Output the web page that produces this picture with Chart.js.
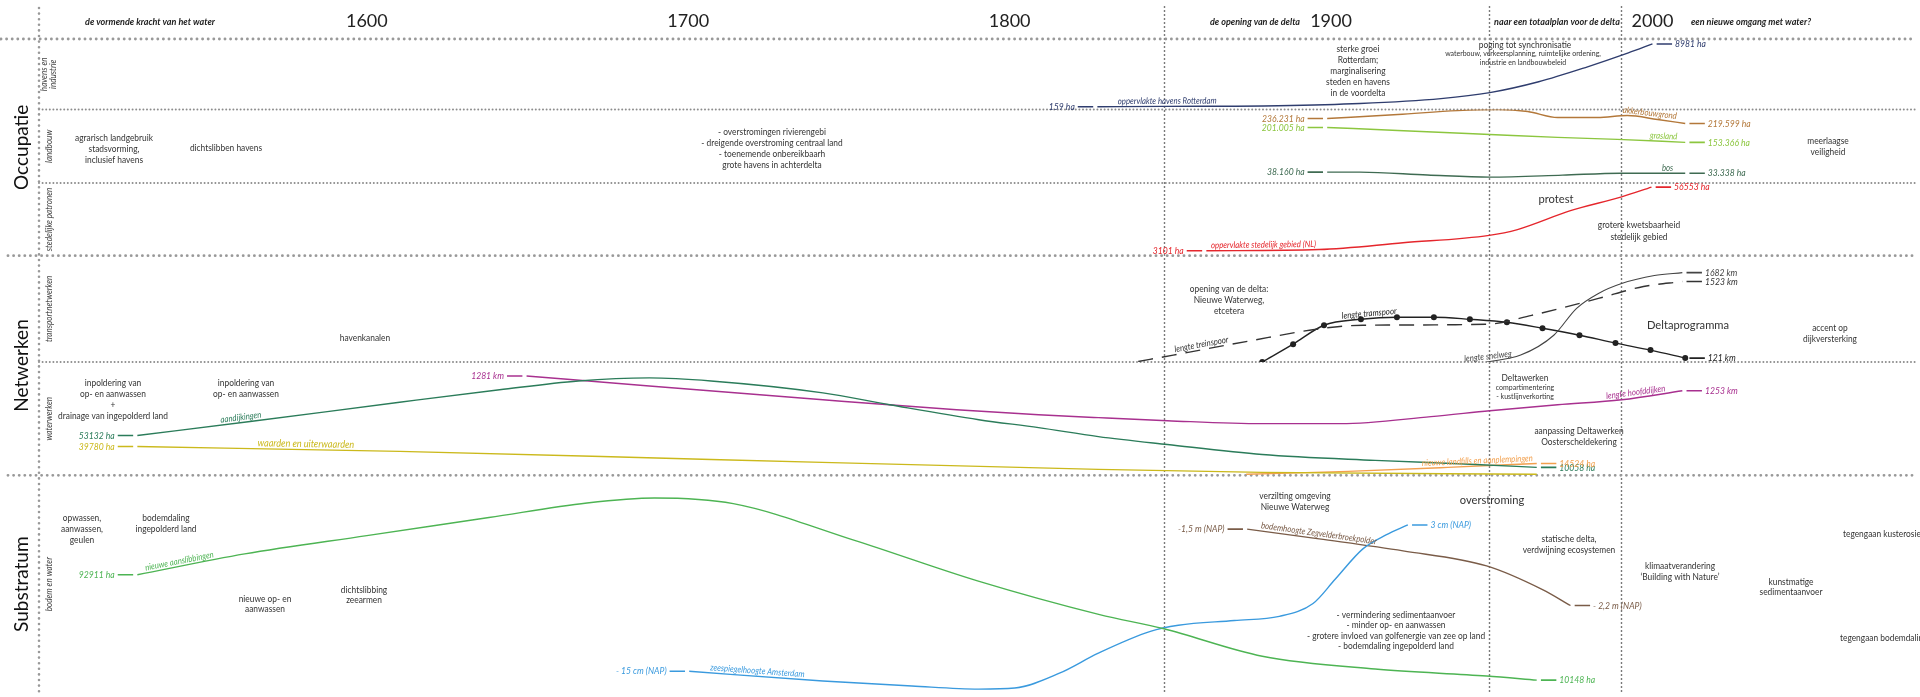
<!DOCTYPE html>
<html lang="nl">
<head>
<meta charset="UTF-8">
<title>Delta tijdlijn</title>
<script src="https://cdn.jsdelivr.net/npm/chart.js"></script>
<style>
  html, body { margin: 0; padding: 0; background: #fff; }
  #wrap { width: 1920px; height: 697px; }
</style>
</head>
<body>
<div id="wrap"><canvas id="delta"></canvas></div>
<script>
// tijdas
const yearTicks = [1600, 1700, 1800, 1900, 2000];
const periodLines = [1848, 1949.2, 1990.3];

// waarden: positie binnen de eigen strook (0 = onder, 100 = boven)
// havens en industrie
const havensYears = [1827.3, 1848, 1883.5, 1909, 1934.2, 1949.4, 1964.6, 1979.8, 1992.5, 2000];
const havensVal   = [4, 4.5, 5.5, 8.5, 15.5, 24, 39.4, 60.6, 80.3, 93];

// landbouw
const akkerYears = [1898.8, 1920.8, 1939.4, 1951.9, 1961.2, 1970.5, 1982.9, 1992.2, 2001.6, 2010.2];
const akkerVal   = [87.8, 93.2, 98.6, 100, 97.3, 89.2, 89.2, 91.9, 86.5, 81.1];
const grasYears  = [1898.8, 1920.8, 1949.4, 1970.5, 1989.1, 2010.2];
const grasVal    = [75.7, 71.6, 66.2, 62.2, 59.5, 55.4];
const bosYears   = [1898.8, 1909, 1930, 1949.4, 1972, 1990, 2010.2];
const bosVal     = [14.9, 14.9, 11, 8.1, 10.8, 13.5, 13.5];

// stedelijke patronen
const stadYears = [1861.2, 1896.3, 1922.4, 1949.2, 1958, 1974.5, 1990.4, 1999.7];
const stadVal   = [6.8, 8.5, 17.8, 28, 36, 62, 81, 94.5];

// transportnetwerken
const tramYears   = [1878.6, 1888.2, 1897.8, 1909.3, 1920.5, 1932, 1943.2, 1954.7, 1965.8, 1977.3, 1988.5, 1999.4, 2010.2];
const tramVal     = [0, 16.8, 34.6, 40.2, 42.1, 42.1, 40.2, 37.4, 31.8, 25.2, 17.8, 11.2, 3.7];
const treinYears  = [1840, 1850.9, 1874.2, 1897.8, 1909.9, 1948.4, 1962.4, 1983.2, 1997.2, 2009.3];
const treinVal    = [0.5, 6.5, 19.6, 31.8, 34.6, 35.5, 43.9, 59.8, 71, 75.7];
const snelYears   = [1948.4, 1959, 1969.3, 1976.4, 1983.2, 1990.4, 2000.6, 2009.3];
const snelVal     = [0, 6.5, 25.2, 50.5, 64.5, 73.8, 81.3, 84.1];

// waterwerken
const dijkYears   = [1528.6, 1563.7, 1610.2, 1641.3, 1665.8, 1687.9, 1707.1, 1741.9, 1762.7, 1790.4, 1809, 1827.6, 1849.1, 1878.6, 1913.7, 1945, 1964];
const dijkVal     = [35.1, 47.5, 64.5, 75.5, 83.3, 86, 83.3, 72.8, 62.3, 49.1, 42.1, 34.2, 27.2, 18.4, 13.2, 9.6, 7];
const waardYears  = [1528.6, 1610.2, 1707.1, 1827.6, 1878.6, 1964];
const waardVal    = [25.4, 21.1, 14, 5.3, 2.6, 0.9];
const hoofdYears  = [1649.7, 1687.9, 1741.9, 1783.5, 1809, 1827.6, 1849.1, 1878.6, 1903.1, 1931.1, 1949.4, 1970.5, 1990.4, 2009.3];
const hoofdVal    = [87.7, 78.9, 66.7, 57.9, 53.5, 50.9, 48.2, 45.6, 45.6, 51.8, 57, 62.3, 66.7, 74.6];
const fillYears   = [1873.6, 1905.3, 1936.3, 1964];
const fillVal     = [0.9, 3.5, 7, 10.5];

// substratum
const slibYears = [1528.6, 1562, 1600, 1638, 1668.5, 1689.5, 1714, 1752, 1790, 1828, 1848, 1878.6, 1913.7, 1948.4, 1964];
const slibVal   = [54.3, 63.9, 72.3, 80.6, 87.3, 89.6, 87, 70, 51.5, 36, 29.5, 16.9, 11, 7.8, 5.9];
const zeeYears  = [1700.3, 1741.9, 1769.6, 1790.4, 1801.6, 1815.5, 1827.6, 1843.8, 1852.5, 1869.9, 1883.9, 1894.4, 1901.2, 1909.9, 1917.1, 1923.9];
const zeeVal    = [10, 5.5, 3.2, 1.8, 2.3, 9.1, 18.3, 28.3, 31.1, 33.3, 35.2, 41.1, 52.1, 66.2, 72.6, 77.2];
const bodemYears = [1873.9, 1896.3, 1922.4, 1948.4, 1965.8, 1974.5];
const bodemVal   = [75.3, 70.8, 65.3, 58.4, 47.5, 40.2];

const FONT = "Lato, 'Open Sans', sans-serif";
const STUB_GAP = 1.3, STUB_LEN = 4.8;

const series = [
  { ys: havensYears, vs: havensVal, ax: 'yHav', c: '#2f3d6e', start: '159 ha', end: '8981 ha', lab: 'oppervlakte havens Rotterdam', at: 1849 },
  { ys: akkerYears, vs: akkerVal, ax: 'yLand', c: '#b3783a', start: '236.231 ha', end: '219.599 ha', lab: 'akkerbouwgrond', at: 1999 },
  { ys: grasYears, vs: grasVal, ax: 'yLand', c: '#8cc63f', start: '201.005 ha', end: '153.366 ha', lab: 'grasland', at: 2003.4 },
  { ys: bosYears, vs: bosVal, ax: 'yLand', c: '#3f6b52', start: '38.160 ha', end: '33.338 ha', lab: 'bos', at: 2004.7 },
  { ys: stadYears, vs: stadVal, ax: 'yStad', c: '#e5262c', start: '3101 ha', end: '56553 ha', lab: 'oppervlakte stedelijk gebied (NL)', at: 1879 },
  { ys: treinYears, vs: treinVal, ax: 'yTrans', c: '#333', dash: [15, 9], end: '1523 km', lab: 'lengte treinspoor', at: 1860 },
  { ys: snelYears, vs: snelVal, ax: 'yTrans', c: '#444', w: 1.1, end: '1682 km', lab: 'lengte snelweg', at: 1949 },
  { ys: tramYears, vs: tramVal, ax: 'yTrans', c: '#222', dots: true, end: '121 km', lab: 'lengte tramspoor', at: 1912 },
  { ys: dijkYears, vs: dijkVal, ax: 'yWater', c: '#2b7c5a', start: '53132 ha', end: '10058 ha', lab: 'aandijkingen', at: 1561 },
  { ys: waardYears, vs: waardVal, ax: 'yWater', c: '#cbb91c', start: '39780 ha', lab: 'waarden en uiterwaarden', at: 1581, ls: 10.5 },
  { ys: hoofdYears, vs: hoofdVal, ax: 'yWater', c: '#a8308f', start: '1281 km', end: '1253 km', lab: 'lengte hoofddijken', at: 1995 },
  { ys: fillYears, vs: fillVal, ax: 'yWater', c: '#f2a04e', end: '14524 ha', lab: 'nieuwe landfills en aanplempingen', at: 1945.6 },
  { ys: slibYears, vs: slibVal, ax: 'ySub', c: '#4db453', start: '92911 ha', end: '10148 ha', lab: 'nieuwe aanslibbingen', at: 1542 },
  { ys: zeeYears, vs: zeeVal, ax: 'ySub', c: '#3a9ade', start: '- 15 cm (NAP)', end: '3 cm (NAP)', lab: 'zeespiegelhoogte Amsterdam', at: 1721.4 },
  { ys: bodemYears, vs: bodemVal, ax: 'ySub', c: '#7a5c48', start: '-1,5 m (NAP)', end: '- 2,2 m (NAP)', lab: 'bodemhoogte Zegvelderbroekpolder', at: 1896 }
];

const bands = [
  { id: 'yHav',   w: 71,  major: true,  sub: ['havens en', 'industrie'] },
  { id: 'yLand',  w: 74,  major: false, sub: ['landbouw'] },
  { id: 'yStad',  w: 73,  major: false, sub: ['stedelijke patronen'] },
  { id: 'yTrans', w: 107, major: true,  sub: ['transportnetwerken'] },
  { id: 'yWater', w: 114, major: false, sub: ['waterwerken'] },
  { id: 'ySub',   w: 219, major: true,  sub: ['bodem en water'] }
];
const groups = [
  { name: 'Occupatie', from: 'yHav', to: 'yStad' },
  { name: 'Netwerken', from: 'yTrans', to: 'yWater' },
  { name: 'Substratum', from: 'ySub', to: 'ySub' }
];

const headers = [
  { t: 'de vormende kracht van het water', x: 150 },
  { t: 'de opening van de delta', x: 1255 },
  { t: 'naar een totaalplan voor de delta', x: 1557 },
  { t: 'een nieuwe omgang met water?', x: 1751 }
];

const notes = [
  { t: ['agrarisch landgebruik', 'stadsvorming,', 'inclusief havens'], x: 114, y: 138 },
  { t: ['dichtslibben havens'], x: 226, y: 148 },
  { t: ['- overstromingen rivierengebi', '- dreigende overstroming centraal land', '- toenemende onbereikbaarh', 'grote havens in achterdelta'], x: 772, y: 132 },
  { t: ['meerlaagse', 'veiligheid'], x: 1828, y: 141 },
  { t: ['sterke groei', 'Rotterdam;', 'marginalisering', 'steden en havens', 'in de voordelta'], x: 1358, y: 49 },
  { t: ['poging tot synchronisatie'], x: 1525, y: 45 },
  { t: ['waterbouw, verkeersplanning, ruimtelijke ordening,', 'industrie en landbouwbeleid'], x: 1523, y: 54, size: 7.5, lh: 9 },
  { t: ['protest'], x: 1556, y: 199, size: 12 },
  { t: ['grotere kwetsbaarheid', 'stedelijk gebied'], x: 1639, y: 225, lh: 12 },
  { t: ['havenkanalen'], x: 365, y: 338 },
  { t: ['opening van de delta:', 'Nieuwe Waterweg,', 'etcetera'], x: 1229, y: 289 },
  { t: ['Deltaprogramma'], x: 1688, y: 325, size: 12 },
  { t: ['accent op', 'dijkversterking'], x: 1830, y: 328 },
  { t: ['inpoldering van', 'op- en aanwassen', '+', 'drainage van ingepolderd land'], x: 113, y: 383 },
  { t: ['inpoldering van', 'op- en aanwassen'], x: 246, y: 383 },
  { t: ['Deltawerken'], x: 1525, y: 378 },
  { t: ['compartimentering', '- kustlijnverkorting'], x: 1525, y: 388, size: 7.5, lh: 9 },
  { t: ['aanpassing Deltawerken', 'Oosterscheldekering'], x: 1579, y: 431 },
  { t: ['opwassen,', 'aanwassen,', 'geulen'], x: 82, y: 518 },
  { t: ['bodemdaling', 'ingepolderd land'], x: 166, y: 518 },
  { t: ['nieuwe op- en', 'aanwassen'], x: 265, y: 599, lh: 10 },
  { t: ['dichtslibbing', 'zeearmen'], x: 364, y: 590, lh: 10 },
  { t: ['verzilting omgeving', 'Nieuwe Waterweg'], x: 1295, y: 496 },
  { t: ['overstroming'], x: 1492, y: 500, size: 12 },
  { t: ['statische delta,', 'verdwijning ecosystemen'], x: 1569, y: 539 },
  { t: ['- vermindering sedimentaanvoer', '- minder op- en aanwassen', '- grotere invloed van golfenergie van zee op land', '- bodemdaling ingepolderd land'], x: 1396, y: 615, lh: 10.5 },
  { t: ['klimaatverandering', '\u2018Building with Nature\u2019'], x: 1680, y: 566 },
  { t: ['kunstmatige', 'sedimentaanvoer'], x: 1791, y: 582, lh: 10 },
  { t: ['tegengaan kusterosie'], x: 1843, y: 534, align: 'left' },
  { t: ['tegengaan bodemdaling'], x: 1840, y: 638, align: 'left' }
];

function pts(xs, vs) {
  return xs.map((x, i) => ({ x: x, y: vs[i] }));
}

// datasets: lijn + korte streepjes bij begin- en eindwaarde
const datasets = [];
series.forEach(s => {
  s.idx = datasets.length;
  datasets.push({
    data: pts(s.ys, s.vs), yAxisID: s.ax, borderColor: s.c, backgroundColor: s.c,
    borderWidth: s.w || 1.4, borderDash: s.dash || [],
    pointRadius: s.dots ? 3 : 0, pointBorderWidth: 0, pointBackgroundColor: s.c,
    cubicInterpolationMode: 'monotone', fill: false
  });
  const n = s.ys.length - 1;
  if (s.start) {
    datasets.push({ data: [{ x: s.ys[0] - STUB_GAP - STUB_LEN, y: s.vs[0] }, { x: s.ys[0] - STUB_GAP, y: s.vs[0] }],
      yAxisID: s.ax, borderColor: s.c, borderWidth: 1.6, pointRadius: 0 });
  }
  if (s.end) {
    datasets.push({ data: [{ x: s.ys[n] + STUB_GAP, y: s.vs[n] }, { x: s.ys[n] + STUB_GAP + STUB_LEN, y: s.vs[n] }],
      yAxisID: s.ax, borderColor: s.c, borderWidth: 1.6, pointRadius: 0 });
  }
});

function txt(ctx, s, x, y, o) {
  ctx.save();
  ctx.font = (o.style ? o.style + ' ' : '') + (o.size || 9) + 'px ' + FONT;
  ctx.fillStyle = o.color || '#333';
  ctx.textAlign = o.align || 'center';
  ctx.textBaseline = o.base || 'middle';
  ctx.translate(x, y);
  if (o.rot) ctx.rotate(o.rot);
  ctx.scale(o.sq || 0.93, 1);
  ctx.fillText(s, 0, o.dy || 0);
  ctx.restore();
}

function dotted(ctx, x1, y1, x2, y2, width, gap, color) {
  ctx.save();
  ctx.strokeStyle = color;
  ctx.lineWidth = width;
  ctx.lineCap = 'round';
  ctx.setLineDash([0, gap]);
  ctx.beginPath();
  ctx.moveTo(x1, y1);
  ctx.lineTo(x2, y2);
  ctx.stroke();
  ctx.restore();
}

function yOnLine(points, px) {
  if (px <= points[0].x) return points[0].y;
  for (let i = 1; i < points.length; i++) {
    if (px <= points[i].x) {
      const a = points[i - 1], b = points[i];
      return a.y + (b.y - a.y) * (px - a.x) / (b.x - a.x);
    }
  }
  return points[points.length - 1].y;
}

const deltaDecor = {
  id: 'deltaDecor',
  beforeDatasetsDraw(chart) {
    const { ctx, chartArea: a, scales } = chart;
    const xs = scales.x;
    // verticale periodelijnen
    periodLines.forEach(yr => {
      const px = Math.round(xs.getPixelForValue(yr)) + 0.5;
      ctx.save();
      ctx.strokeStyle = '#7a7a7a';
      ctx.lineWidth = 1.4;
      ctx.setLineDash([2, 2]);
      ctx.beginPath();
      ctx.moveTo(px, 6);
      ctx.lineTo(px, a.bottom);
      ctx.stroke();
      ctx.restore();
    });
    // strookgrenzen
    bands.forEach(b => {
      const y = scales[b.id].top;
      if (b.major) dotted(ctx, b.id === 'yHav' ? 1 : 8, y, a.right, y, 2.9, 5.6, '#999');
      else dotted(ctx, a.left, y, a.right, y, 2, 3.6, '#8c8c8c');
    });
    // linker as
    dotted(ctx, a.left, 8, a.left, a.bottom, 2.6, 5.6, '#999');
  },
  afterDatasetsDraw(chart) {
    const { ctx, scales } = chart;
    const xs = scales.x;

    // jaartallen en periodekoppen
    yearTicks.forEach(yr => txt(ctx, String(yr), xs.getPixelForValue(yr), 21, { size: 18, color: '#222', sq: 1 }));
    headers.forEach(h => txt(ctx, h.t, h.x, 22, { size: 9.5, style: 'italic bold', color: '#222', sq: 0.95 }));

    // strooklabels
    groups.forEach(g => {
      const cy = (scales[g.from].top + scales[g.to].bottom) / 2;
      txt(ctx, g.name, 22, cy, { size: 19, color: '#111', rot: -Math.PI / 2, sq: 1 });
    });
    bands.forEach(b => {
      const cy = (scales[b.id].top + scales[b.id].bottom) / 2;
      const n = b.sub.length;
      b.sub.forEach((line, i) => {
        txt(ctx, line, 49 + (i - (n - 1) / 2) * 9, cy, { size: 9, style: 'italic', color: '#444', rot: -Math.PI / 2, sq: 0.9 });
      });
    });

    // reeksen: begin/eindwaarden en lijnlabels
    series.forEach(s => {
      const ys = scales[s.ax];
      const n = s.ys.length - 1;
      if (s.start) {
        txt(ctx, s.start, xs.getPixelForValue(s.ys[0] - STUB_GAP - STUB_LEN) - 3, ys.getPixelForValue(s.vs[0]),
          { size: 10, style: 'italic', color: s.c, align: 'right', sq: 0.86 });
      }
      if (s.end) {
        txt(ctx, s.end, xs.getPixelForValue(s.ys[n] + STUB_GAP + STUB_LEN) + 3, ys.getPixelForValue(s.vs[n]),
          { size: 10, style: 'italic', color: s.c, align: 'left', sq: 0.86 });
      }
      const size = s.ls || 9;
      const p = chart.getDatasetMeta(s.idx).data;
      const px = xs.getPixelForValue(s.at);
      ctx.font = 'italic ' + size + 'px ' + FONT;
      const w = ctx.measureText(s.lab).width * 0.87;
      const y1 = yOnLine(p, px - w / 2), y2 = yOnLine(p, px + w / 2);
      const ang = Math.atan2(y2 - y1, w);
      txt(ctx, s.lab, px, yOnLine(p, px), { size: size, style: 'italic', color: s.c, rot: ang, base: 'alphabetic', dy: -2.5, sq: 0.87 });
    });

    // toelichtingen
    notes.forEach(nt => {
      const lh = nt.lh || 11;
      nt.t.forEach((line, i) => txt(ctx, line, nt.x, nt.y + i * lh, { size: nt.size || 9, align: nt.align, color: '#333' }));
    });
  }
};

const yScales = {};
bands.forEach(b => {
  yScales[b.id] = { type: 'linear', min: 0, max: 100, display: false, position: 'right', stack: 'bands', stackWeight: b.w };
});

new Chart(document.getElementById('delta'), {
  type: 'line',
  data: { datasets: datasets },
  options: {
    responsive: true,
    maintainAspectRatio: false,
    animation: false,
    layout: { padding: { left: 39, top: 39, right: 0, bottom: 0 } },
    plugins: { legend: { display: false }, tooltip: { enabled: false } },
    scales: Object.assign({ x: { type: 'linear', min: 1498, max: 2082, display: false } }, yScales)
  },
  plugins: [deltaDecor]
});
</script>
</body>
</html>
